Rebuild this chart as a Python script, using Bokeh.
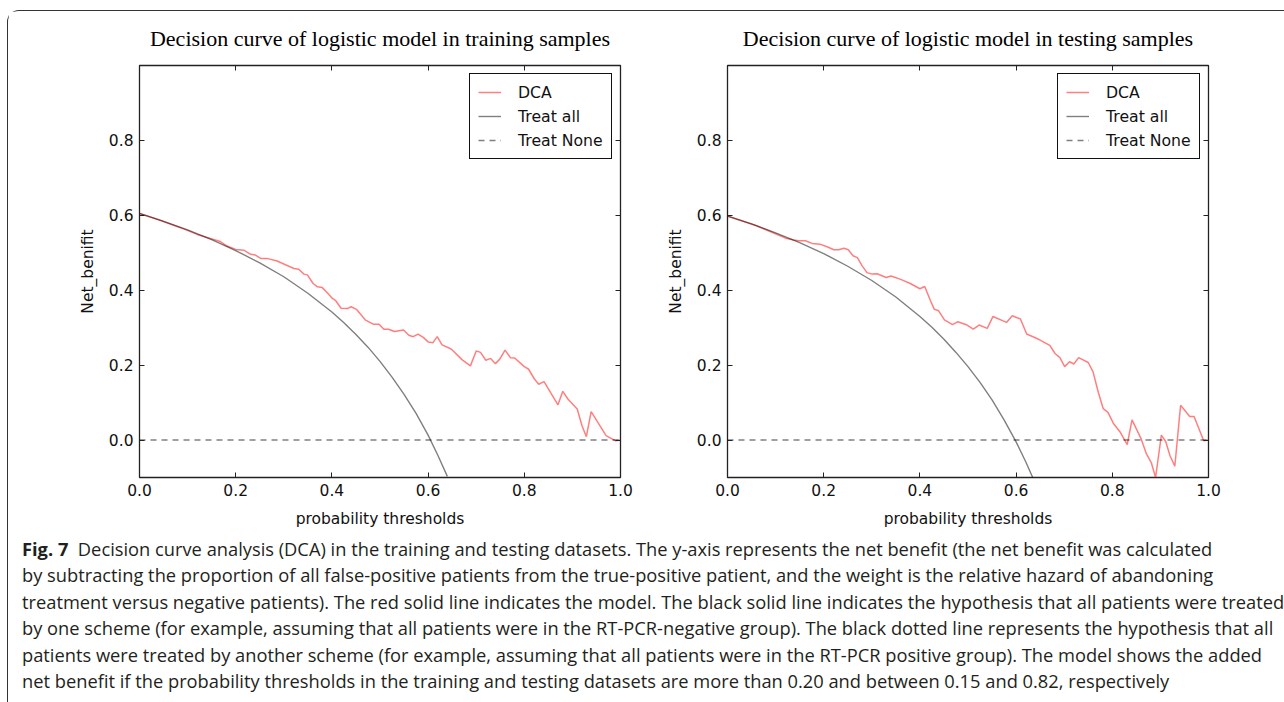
from bokeh.plotting import figure
from bokeh.models import (LinearAxis, Legend, LegendItem, Div, FixedTicker,
                          Range1d, NumeralTickFormatter)
from bokeh.layouts import row, column
from bokeh.embed import file_html
from bokeh.resources import INLINE

# ---------------- data ----------------
titles = ["Decision curve of logistic model in training samples",
          "Decision curve of logistic model in testing samples"]
x_ticks = [0.0, 0.2, 0.4, 0.6, 0.8, 1.0]
y_ticks = [0.0, 0.2, 0.4, 0.6, 0.8]

train_t = [0.0, 0.04, 0.085, 0.12, 0.168, 0.182, 0.2, 0.217, 0.231, 0.241, 0.252, 0.265, 0.286,
           0.321, 0.331, 0.342, 0.349, 0.361, 0.370, 0.380, 0.390, 0.401, 0.408, 0.419,
           0.432, 0.440, 0.451, 0.470, 0.487, 0.498, 0.508, 0.518, 0.530, 0.549, 0.560,
           0.569, 0.579, 0.590, 0.600, 0.610, 0.619, 0.629, 0.648, 0.671, 0.688, 0.700,
           0.709, 0.720, 0.730, 0.740, 0.749, 0.760, 0.771, 0.780, 0.800, 0.809, 0.821,
           0.830, 0.841, 0.870, 0.880, 0.891, 0.910, 0.920, 0.929, 0.939, 0.970, 0.990, 1.0]
train_dca = [0.605, 0.588, 0.567, 0.549, 0.530, 0.518, 0.509, 0.507, 0.496, 0.494, 0.485, 0.485, 0.478,
             0.458, 0.456, 0.443, 0.441, 0.418, 0.409, 0.407, 0.394, 0.378, 0.372, 0.352,
             0.351, 0.356, 0.349, 0.320, 0.309, 0.309, 0.296, 0.296, 0.290, 0.294, 0.280,
             0.276, 0.283, 0.274, 0.262, 0.260, 0.276, 0.254, 0.243, 0.214, 0.198, 0.238,
             0.234, 0.213, 0.218, 0.204, 0.216, 0.240, 0.220, 0.219, 0.196, 0.189, 0.163,
             0.149, 0.156, 0.094, 0.130, 0.109, 0.083, 0.038, 0.009, 0.076, 0.012, -0.002, 0.0]

test_t = [0.0, 0.06, 0.121, 0.138, 0.148, 0.162, 0.176, 0.192, 0.207, 0.221, 0.231, 0.242, 0.251,
          0.261, 0.270, 0.280, 0.290, 0.301, 0.311, 0.330, 0.340, 0.360, 0.380, 0.400, 0.410,
          0.422, 0.430, 0.439, 0.451, 0.468, 0.479, 0.498, 0.511, 0.523, 0.540, 0.552, 0.580,
          0.592, 0.609, 0.622, 0.647, 0.670, 0.681, 0.691, 0.701, 0.711, 0.720, 0.730, 0.750,
          0.760, 0.771, 0.781, 0.791, 0.802, 0.817, 0.831, 0.841, 0.860, 0.871, 0.881, 0.890,
          0.902, 0.911, 0.920, 0.930, 0.942, 0.961, 0.970, 0.990, 1.0]
test_dca = [0.598, 0.572, 0.539, 0.534, 0.532, 0.532, 0.525, 0.523, 0.516, 0.508, 0.508, 0.512, 0.508,
            0.492, 0.487, 0.465, 0.447, 0.443, 0.444, 0.434, 0.438, 0.429, 0.418, 0.404, 0.410,
            0.372, 0.349, 0.345, 0.321, 0.308, 0.316, 0.307, 0.296, 0.307, 0.298, 0.330, 0.314,
            0.332, 0.323, 0.283, 0.269, 0.253, 0.231, 0.220, 0.196, 0.209, 0.203, 0.220, 0.207,
            0.182, 0.127, 0.084, 0.074, 0.045, 0.020, -0.012, 0.054, 0.003, -0.037, -0.060, -0.100,
            0.013, -0.004, -0.042, -0.070, 0.093, 0.063, 0.063, -0.002, 0.0]

all_t = [0.0, 0.05, 0.1, 0.15, 0.2, 0.25, 0.3, 0.35, 0.4, 0.425, 0.45, 0.475, 0.5, 0.525,
         0.55, 0.575, 0.6, 0.62, 0.64]
train_all = [0.605, 0.584, 0.561, 0.535, 0.506, 0.473, 0.436, 0.392, 0.342, 0.313, 0.282,
             0.248, 0.210, 0.168, 0.122, 0.071, 0.013, -0.040, -0.097]
test_all = [0.598, 0.577, 0.553, 0.527, 0.498, 0.464, 0.426, 0.382, 0.330, 0.301, 0.269,
            0.234, 0.196, 0.154, 0.107, 0.054, -0.005, -0.058, -0.116]

none_t = [0.0, 1.0]
none_nb = [0.0, 0.0]

legend_labels = ["DCA", "Treat all", "Treat None"]
x_label = "probability thresholds"
y_label = "Net_benifit"

caption_lines = [
    "<b>Fig. 7</b>&nbsp;&nbsp;Decision curve analysis (DCA) in the training and testing datasets. The y-axis represents the net benefit (the net benefit was calculated",
    "by subtracting the proportion of all false-positive patients from the true-positive patient, and the weight is the relative hazard of abandoning",
    "treatment versus negative patients). The red solid line indicates the model. The black solid line indicates the hypothesis that all patients were treated",
    "by one scheme (for example, assuming that all patients were in the RT-PCR-negative group). The black dotted line represents the hypothesis that all",
    "patients were treated by another scheme (for example, assuming that all patients were in the RT-PCR positive group). The model shows the added",
    "net benefit if the probability thresholds in the training and testing datasets are more than 0.20 and between 0.15 and 0.82, respectively",
]

TICK_FONT = "DejaVu Sans"
FRAME_W = 481


def make_panel(title, t, dca, all_nb, width, left):
    p = figure(width=width, height=520, x_range=Range1d(0, 1), y_range=Range1d(-0.1, 1.0),
               output_backend="svg", toolbar_location=None,
               min_border_left=left, min_border_right=width - left - FRAME_W,
               min_border_top=54, min_border_bottom=54)
    p.background_fill_color = "white"
    p.border_fill_color = "white"
    p.grid.visible = False
    p.outline_line_color = "#222222"
    p.outline_line_width = 1.3
    p.outline_line_alpha = 1.0

    p.title.text = title
    p.title.text_font = "Liberation Serif"
    p.title.text_font_size = "22px"
    p.title.text_font_style = "normal"
    p.title.align = "center"
    p.title.vertical_align = "top"
    p.title.text_color = "#000000"
    p.title.standoff = 26

    for ax in (p.xaxis[0], p.yaxis[0]):
        ax.major_tick_in = 5
        ax.major_tick_out = 0
        ax.minor_tick_line_color = None
        ax.axis_line_color = None
        ax.major_tick_line_color = "#222222"
        ax.major_label_text_font = TICK_FONT
        ax.major_label_text_font_size = "15.5px"
        ax.major_label_text_color = "#111111"
        ax.axis_label_text_font = TICK_FONT
        ax.axis_label_text_font_size = "15.5px"
        ax.axis_label_text_font_style = "normal"
        ax.axis_label_text_color = "#111111"
        ax.formatter = NumeralTickFormatter(format="0.0")
    p.xaxis[0].ticker = FixedTicker(ticks=x_ticks)
    p.yaxis[0].ticker = FixedTicker(ticks=y_ticks)
    p.xaxis[0].axis_label = x_label
    p.yaxis[0].axis_label = y_label
    p.xaxis[0].major_label_standoff = 6
    p.xaxis[0].axis_label_standoff = 11
    p.yaxis[0].major_label_standoff = 6
    p.yaxis[0].axis_label_standoff = 9

    for loc, tk in (("above", x_ticks), ("right", y_ticks)):
        ax = LinearAxis(ticker=FixedTicker(ticks=tk))
        ax.major_tick_in = 5
        ax.major_tick_out = 0
        ax.minor_tick_line_color = None
        ax.axis_line_color = None
        ax.major_tick_line_color = "#222222"
        ax.major_label_text_color = None
        ax.major_label_text_font_size = "1px"
        ax.major_label_standoff = 0
        p.add_layout(ax, loc)

    r1 = p.line(t, dca, line_color="red", line_alpha=0.5, line_width=1.5)
    r2 = p.line(all_t, all_nb, line_color="black", line_alpha=0.5, line_width=1.4)
    r3 = p.line(none_t, none_nb, line_color="black", line_alpha=0.5, line_width=1.4,
                line_dash="6 5")

    legend = Legend(items=[LegendItem(label=legend_labels[0], renderers=[r1]),
                           LegendItem(label=legend_labels[1], renderers=[r2]),
                           LegendItem(label=legend_labels[2], renderers=[r3])],
                    location=(330, 318))
    legend.border_line_color = "#111111"
    legend.border_line_width = 1.3
    legend.border_line_alpha = 1.0
    legend.background_fill_color = "white"
    legend.background_fill_alpha = 1.0
    legend.label_text_font = TICK_FONT
    legend.label_text_font_size = "15.7px"
    legend.label_text_color = "#111111"
    legend.glyph_width = 23
    legend.glyph_height = 20
    legend.label_height = 20
    legend.label_standoff = 17
    legend.spacing = 4
    legend.padding = 8
    legend.margin = 0
    p.add_layout(legend)
    return p


p1 = make_panel(titles[0], train_t, train_dca, train_all, 646, 131)
p2 = make_panel(titles[1], test_t, test_dca, test_all, 621, 73)

caption = Div(text="<br>".join(caption_lines), width=1266, height=168,
              styles={"font-family": "'Open Sans'", "font-size": "18.3px",
                      "line-height": "26.4px", "color": "#231f20",
                      "white-space": "nowrap", "padding-left": "9px",
                      "overflow": "visible"})

layout = column(row(p1, p2), caption, margin=(10, 0, 0, 7),
                styles={"border-top": "1.5px solid #333", "border-left": "1.5px solid #333",
                        "border-top-left-radius": "12px"})

with open("out.html", "w") as f:
    f.write(file_html(layout, INLINE))
